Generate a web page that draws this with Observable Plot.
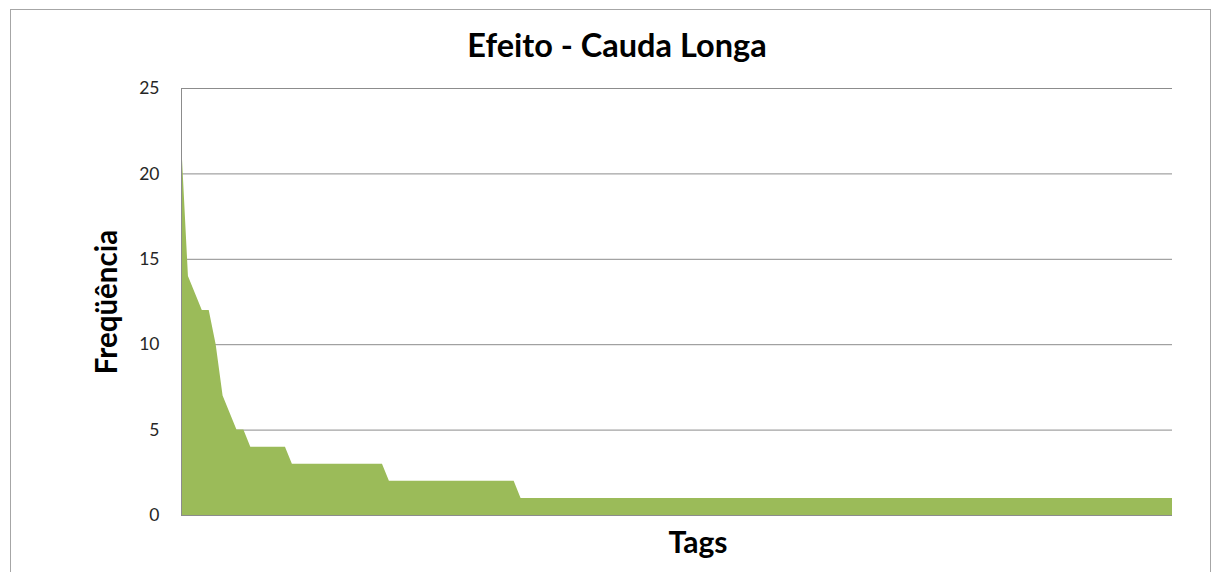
<!DOCTYPE html>
<html>
<head>
<meta charset="utf-8">
<script src="https://cdn.jsdelivr.net/npm/d3@7"></script>
<script src="https://cdn.jsdelivr.net/npm/@observablehq/plot@0.6"></script>
<style>
  body { margin: 0; background: #fff; }
  #wrap { position: relative; width: 1212px; height: 572px; overflow: hidden; background: #fff; }
  #border { position: absolute; left: 10px; top: 9px; width: 1201px; height: 580px; border: 1px solid #a6a6a6; box-sizing: border-box; }
  #chart { position: absolute; left: 0; top: 0; }
  #chart svg { font-family: Lato, "Open Sans", sans-serif; }
</style>
</head>
<body>
<div id="wrap"><div id="border"></div><div id="chart"></div></div>
<script>
// Data (frequency per tag, sorted descending)
const frequencies = [
  22, 14, 13, 12, 12, 10, 7, 6, 5, 5,
  4, 4, 4, 4, 4, 4,
  3, 3, 3, 3, 3, 3, 3, 3, 3, 3, 3, 3, 3, 3,
  2, 2, 2, 2, 2, 2, 2, 2, 2, 2, 2, 2, 2, 2, 2, 2, 2, 2, 2,
  1, 1, 1, 1, 1, 1, 1, 1, 1, 1,
  1, 1, 1, 1, 1, 1, 1, 1, 1, 1,
  1, 1, 1, 1, 1, 1, 1, 1, 1, 1,
  1, 1, 1, 1, 1, 1, 1, 1, 1, 1,
  1, 1, 1, 1, 1, 1, 1, 1, 1, 1,
  1, 1, 1, 1, 1, 1, 1, 1, 1, 1,
  1, 1, 1, 1, 1, 1, 1, 1, 1, 1,
  1, 1, 1, 1, 1, 1, 1, 1, 1, 1,
  1, 1, 1, 1, 1, 1, 1, 1, 1, 1,
  1, 1, 1, 1, 1
];
const yTicks = [0, 5, 10, 15, 20, 25];
const title = "Efeito - Cauda Longa";
const yLabel = "Freqüência";
const xLabel = "Tags";

const data = frequencies.map((freq, tag) => ({tag, freq}));
const grid = "#8c8c8c";

const chart = Plot.plot({
  width: 1212,
  height: 572,
  marginLeft: 181,
  marginRight: 40,
  marginTop: 88,
  marginBottom: 57,
  x: {domain: [0, frequencies.length - 1], axis: null},
  y: {domain: [0, 25], axis: null},
  marks: [
    Plot.ruleY(yTicks, {stroke: grid, strokeWidth: 1}),
    Plot.areaY(data, {x: "tag", y: "freq", fill: "#9BBB59", curve: "linear"}),
    Plot.ruleX([0], {stroke: grid, strokeWidth: 1}),
    Plot.ruleY([0], {stroke: grid, strokeWidth: 1}),
    Plot.axisY({ticks: yTicks, tickSize: 0, tickPadding: 22, fontSize: 17.5, label: null, color: "#262626"}),
    Plot.text([title], {frameAnchor: "top", textAnchor: "middle", dx: -60, dy: -42, fontSize: 32.5, fontWeight: "bold", fill: "#000", lineAnchor: "middle"}),
    Plot.text([yLabel], {frameAnchor: "left", textAnchor: "middle", dx: -74, rotate: -90, fontSize: 29.5, fontWeight: "bold", fill: "#000", lineAnchor: "middle"}),
    Plot.text([xLabel], {frameAnchor: "bottom", textAnchor: "middle", dx: 21, dy: 28, fontSize: 30, fontWeight: "bold", fill: "#000", lineAnchor: "middle"})
  ]
});
document.getElementById("chart").appendChild(chart);
</script>
</body>
</html>
